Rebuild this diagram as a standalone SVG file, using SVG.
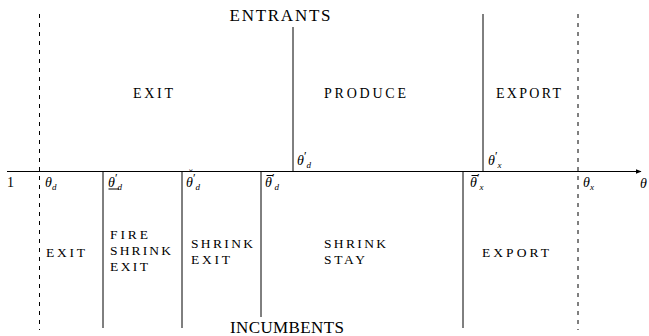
<svg xmlns="http://www.w3.org/2000/svg" width="649" height="336" viewBox="0 0 649 336">
<defs>
<style>
.ln{stroke:#000;stroke-width:1;fill:none}
.ds{stroke:#000;stroke-width:1;stroke-dasharray:4,5;fill:none}
.t{font-size:14px}
.b{font-size:13.5px}
.big{font-size:17px}
.m{font-size:14px;font-style:italic}
.n{font-style:normal}
.s{font-size:9px}
.p{font-size:12px;font-style:normal}
.acc{font-size:11px;font-style:normal}
</style>
<marker id="ar" viewBox="0 0 10 10" refX="9" refY="5" markerWidth="6" markerHeight="6" orient="auto" markerUnits="userSpaceOnUse">
<path d="M0,1 L10,5 L0,9 Z" fill="#000"/>
</marker>
</defs>
<rect width="649" height="336" fill="#fff"/>
<g id="connectors">
<line class="ln" x1="7" y1="171.5" x2="641" y2="171.5" marker-end="url(#ar)"/>
<line class="ds" x1="39.5" y1="14" x2="39.5" y2="330"/>
<line class="ds" x1="578" y1="14" x2="578" y2="330"/>
<line class="ln" x1="293" y1="27" x2="293" y2="171.5"/>
<line class="ln" x1="483" y1="14" x2="483" y2="171.5"/>
<line class="ln" x1="103" y1="171.5" x2="103" y2="328"/>
<line class="ln" x1="182" y1="171.5" x2="182" y2="328"/>
<line class="ln" x1="261" y1="171.5" x2="261" y2="317"/>
<line class="ln" x1="463" y1="171.5" x2="463" y2="328"/>
<line class="ln" x1="108.5" y1="189" x2="119" y2="189"/>
<line class="ln" x1="266.5" y1="175.5" x2="273" y2="175.5"/>
<line class="ln" x1="471.5" y1="175.5" x2="478" y2="175.5"/>
</g>
<g font-family="Liberation Serif, serif" fill="#000">
<g id="entrants"><text class="big" x="229.5" y="21" textLength="101" lengthAdjust="spacing">ENTRANTS</text></g>
<g id="incumbents"><text class="big" x="230" y="333" textLength="114" lengthAdjust="spacing">INCUMBENTS</text></g>
<g id="top-exit"><text class="t" x="133" y="98" textLength="40">EXIT</text></g>
<g id="top-produce"><text class="t" x="324" y="98" textLength="82">PRODUCE</text></g>
<g id="top-export"><text class="t" x="496" y="98" textLength="65">EXPORT</text></g>
<g id="bot-exit"><text class="b" x="46" y="257" textLength="39">EXIT</text></g>
<g id="bot-fire">
<text class="b" x="110" y="239" textLength="38">FIRE</text>
<text class="b" x="110" y="255" textLength="61">SHRINK</text>
<text class="b" x="110" y="270.5" textLength="38">EXIT</text>
</g>
<g id="bot-shrink-exit">
<text class="b" x="191" y="248" textLength="62">SHRINK</text>
<text class="b" x="191" y="264" textLength="39">EXIT</text>
</g>
<g id="bot-shrink-stay">
<text class="b" x="324" y="248" textLength="62">SHRINK</text>
<text class="b" x="324" y="264" textLength="41">STAY</text>
</g>
<g id="bot-export"><text class="b" x="482" y="256.5" textLength="67">EXPORT</text></g>
<g id="axis-labels">
<text class="m n" x="7" y="187">1</text>
<text class="m" x="45" y="187">θ<tspan class="s" dy="3">d</tspan></text>
<text class="m" x="108" y="187">θ<tspan class="p" dy="-5">′</tspan><tspan class="s" dy="8">d</tspan></text>
<text class="m" x="186" y="187"><tspan class="acc" x="189" y="177">˘</tspan><tspan x="186" y="187">θ</tspan><tspan class="p" dy="-5">′</tspan><tspan class="s" dy="8">d</tspan></text>
<text class="m" x="265" y="187">θ<tspan class="p" dy="-5">′</tspan><tspan class="s" dy="8">d</tspan></text>
<text class="m" x="297" y="165">θ<tspan class="p" dy="-5">′</tspan><tspan class="s" dy="8">d</tspan></text>
<text class="m" x="488" y="165">θ<tspan class="p" dy="-5">′</tspan><tspan class="s" dy="8">x</tspan></text>
<text class="m" x="470" y="187">θ<tspan class="p" dy="-5">′</tspan><tspan class="s" dy="8">x</tspan></text>
<text class="m" x="583" y="187">θ<tspan class="s" dy="3">x</tspan></text>
<text class="m" x="640" y="188">θ</text>
</g>
</g>
</svg>
